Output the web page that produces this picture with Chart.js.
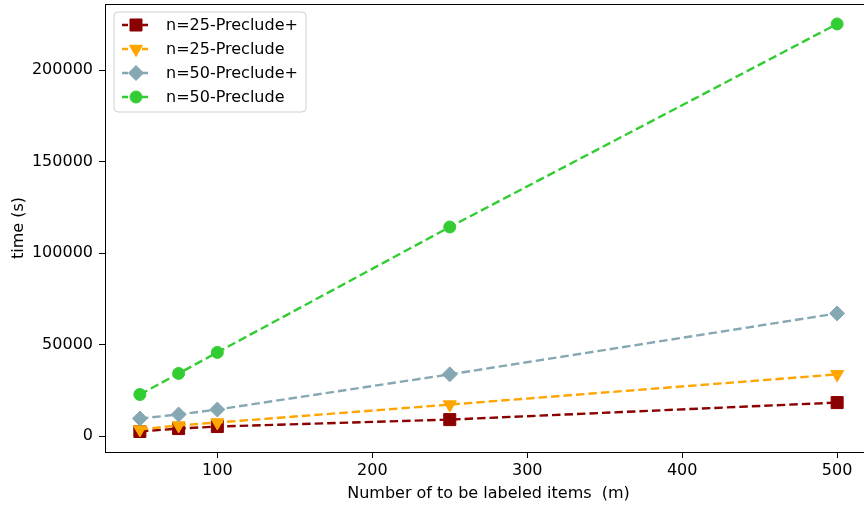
<!DOCTYPE html>
<html>
<head>
<meta charset="utf-8">
<script src="https://cdn.jsdelivr.net/npm/chart.js@4.4.1/dist/chart.umd.min.js"></script>
<style>
  html, body { margin: 0; padding: 0; background: #fff; overflow: hidden; }
  canvas { display: block; }
</style>
</head>
<body>
<canvas id="timeChart" width="880" height="507"></canvas>
<script>
// nombre d'items (m)
const items = [50, 75, 100, 250, 500];

// temps (s) par configuration
const n25PreludePlus = [2600, 4200, 5300, 9100, 18400];
const n25Prelude = [3700, 5900, 7500, 17300, 33800];
const n50PreludePlus = [9700, 11900, 14600, 33800, 67100];
const n50Prelude = [22800, 34300, 45800, 114300, 225200];

const seriesLabels = ['n=25-Preclude+', 'n=25-Preclude', 'n=50-Preclude+', 'n=50-Preclude'];
const yTicks = [0, 50000, 100000, 150000, 200000];
const xTicks = [100, 200, 300, 400, 500];

const FONT = 'DejaVu Sans';

function toPoints(values) {
    return items.map((m, i) => ({ x: m, y: values[i] }));
}

function makeDataset(label, values, color, style, radius, rotation, order) {
    return {
        label: label,
        data: toPoints(values),
        borderColor: color,
        backgroundColor: color,
        pointBackgroundColor: color,
        pointBorderColor: color,
        pointBorderWidth: 1,
        borderWidth: 2.4,
        borderDash: [8.5, 4],
        tension: 0,
        pointStyle: style,
        pointRadius: radius,
        pointRotation: rotation,
        pointHoverRadius: radius,
        order: order
    };
}

// dessin d'un marqueur pour la légende
function drawMarker(ctx, style, x, y, r, rotation, color) {
    ctx.save();
    ctx.fillStyle = color;
    ctx.strokeStyle = color;
    ctx.lineWidth = 1;
    ctx.beginPath();
    if (style === 'rect') {
        const s = Math.SQRT1_2 * r;
        ctx.rect(x - s, y - s, 2 * s, 2 * s);
    } else if (style === 'rectRot') {
        ctx.moveTo(x, y - r);
        ctx.lineTo(x + r, y);
        ctx.lineTo(x, y + r);
        ctx.lineTo(x - r, y);
        ctx.closePath();
    } else if (style === 'triangle') {
        let rad = rotation * Math.PI / 180;
        ctx.moveTo(x + Math.sin(rad) * r, y - Math.cos(rad) * r);
        rad += 2 * Math.PI / 3;
        ctx.lineTo(x + Math.sin(rad) * r, y - Math.cos(rad) * r);
        rad += 2 * Math.PI / 3;
        ctx.lineTo(x + Math.sin(rad) * r, y - Math.cos(rad) * r);
        ctx.closePath();
    } else {
        ctx.arc(x, y, r, 0, Math.PI * 2);
    }
    ctx.fill();
    ctx.stroke();
    ctx.restore();
}

// cadre + légende façon matplotlib
const framePlugin = {
    id: 'frame',
    afterDraw(chart) {
        const ctx = chart.ctx;
        const a = chart.chartArea;
        ctx.save();
        ctx.strokeStyle = '#000';
        ctx.lineWidth = 1;
        ctx.strokeRect(Math.round(a.left) + 0.5, Math.round(a.top) + 0.5,
            Math.round(a.right - a.left), Math.round(a.bottom - a.top));

        // boîte de légende
        const bx = 114, by = 12, bw = 192, bh = 100, rr = 4;
        ctx.beginPath();
        ctx.moveTo(bx + rr, by);
        ctx.arcTo(bx + bw, by, bx + bw, by + bh, rr);
        ctx.arcTo(bx + bw, by + bh, bx, by + bh, rr);
        ctx.arcTo(bx, by + bh, bx, by, rr);
        ctx.arcTo(bx, by, bx + bw, by, rr);
        ctx.closePath();
        ctx.fillStyle = 'rgba(255,255,255,0.8)';
        ctx.fill();
        ctx.strokeStyle = '#d0d0d0';
        ctx.stroke();

        ctx.font = '16px "' + FONT + '"';
        ctx.textBaseline = 'middle';
        ctx.textAlign = 'left';
        chart.data.datasets.forEach((ds, i) => {
            const y = by + 13 + i * 24;
            ctx.save();
            ctx.strokeStyle = ds.borderColor;
            ctx.lineWidth = ds.borderWidth;
            ctx.setLineDash([6, 4]);
            ctx.lineDashOffset = -2;
            ctx.beginPath();
            ctx.moveTo(bx + 6, y);
            ctx.lineTo(bx + 38, y);
            ctx.stroke();
            ctx.restore();
            drawMarker(ctx, ds.pointStyle, bx + 22, y, ds.pointRadius, ds.pointRotation, ds.pointBackgroundColor);
            ctx.fillStyle = '#000';
            ctx.fillText(ds.label, bx + 52, y + 1);
        });
        ctx.restore();
    }
};

const ctx = document.getElementById('timeChart').getContext('2d');
const timeChart = new Chart(ctx, {
    type: 'line',
    data: {
        datasets: [
            makeDataset(seriesLabels[0], n25PreludePlus, '#8b0000', 'rect', 8.5, 0, 4),
            makeDataset(seriesLabels[1], n25Prelude, '#ffa500', 'triangle', 7.5, 180, 3),
            makeDataset(seriesLabels[2], n50PreludePlus, '#86a8b3', 'rectRot', 7.5, 0, 2),
            makeDataset(seriesLabels[3], n50Prelude, '#32cd32', 'circle', 6, 0, 1)
        ]
    },
    options: {
        responsive: false,
        animation: false,
        layout: { autoPadding: false, padding: { left: 0, top: 4, right: 8, bottom: 0 } },
        plugins: {
            legend: { display: false },
            tooltip: { enabled: false }
        },
        scales: {
            x: {
                type: 'linear',
                min: 27.5,
                max: 522.5,
                afterFit: (scale) => {
                    scale.height = 55;
                    scale.paddingLeft = 0;
                    scale.paddingRight = 0;
                },
                afterBuildTicks: (scale) => { scale.ticks = xTicks.map(v => ({ value: v })); },
                border: { display: false },
                grid: { drawOnChartArea: false, drawTicks: true, tickLength: 6, color: '#000' },
                ticks: {
                    padding: 3,
                    color: '#000',
                    font: { family: FONT, size: 16 },
                    maxRotation: 0,
                    callback: (v) => String(v)
                },
                title: {
                    display: true,
                    text: 'Number of to be labeled items  (m)',
                    color: '#000',
                    font: { family: FONT, size: 16 },
                    padding: { top: 4, bottom: 4 }
                }
            },
            y: {
                min: -8600,
                max: 236100,
                afterFit: (scale) => {
                    scale.width = 105;
                    scale.paddingTop = 0;
                    scale.paddingBottom = 0;
                },
                afterBuildTicks: (scale) => { scale.ticks = yTicks.map(v => ({ value: v })); },
                border: { display: false },
                grid: { drawOnChartArea: false, drawTicks: true, tickLength: 6, color: '#000' },
                ticks: {
                    padding: 6,
                    color: '#000',
                    font: { family: FONT, size: 16 },
                    callback: (v) => String(v)
                },
                title: {
                    display: true,
                    text: 'time (s)',
                    color: '#000',
                    font: { family: FONT, size: 16 },
                    padding: { top: 9, bottom: 4 }
                }
            }
        }
    },
    plugins: [framePlugin]
});
</script>
</body>
</html>
